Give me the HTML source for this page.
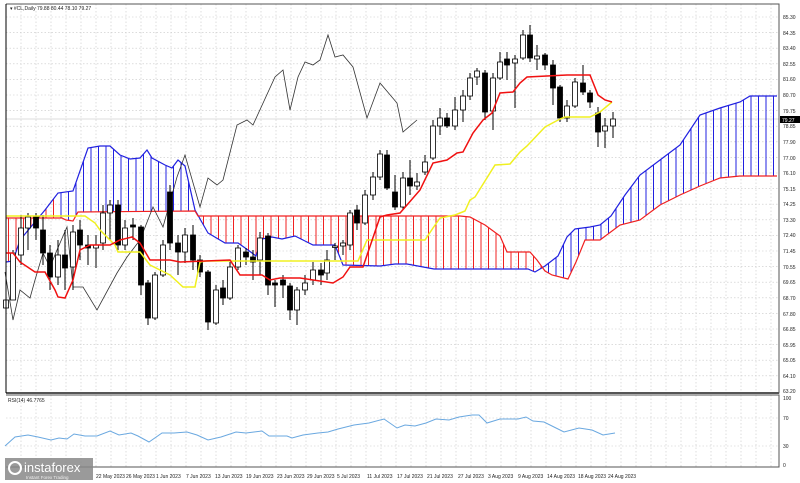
<!DOCTYPE html>
<html><head><meta charset="utf-8"><style>
body{margin:0;background:#fff}
svg{display:block;font-family:"Liberation Sans",sans-serif}
</style></head><body>
<svg width="800" height="483" viewBox="0 0 800 483" xmlns="http://www.w3.org/2000/svg">
<defs>
<pattern id="pb" patternUnits="userSpaceOnUse" width="7.5" height="10"><line x1="1" y1="0" x2="1" y2="10" stroke="#2020e0" stroke-width="1"/></pattern>
<pattern id="pr" patternUnits="userSpaceOnUse" width="7.5" height="10"><line x1="1" y1="0" x2="1" y2="10" stroke="#f02020" stroke-width="1"/></pattern>
<clipPath id="cr"><rect x="6" y="0" width="52" height="400"/><rect x="195" y="0" width="348" height="400"/></clipPath>
<clipPath id="cb"><rect x="58" y="0" width="137" height="400"/><rect x="543" y="0" width="240" height="400"/></clipPath>
</defs>
<rect width="800" height="483" fill="#fff"/>
<!-- grid -->
<g stroke="#c8c8c8" stroke-width="0.6" stroke-dasharray="1.5,2">
<path d="M6 17H779M6 32.6H779M6 48.2H779M6 63.8H779M6 79.4H779M6 95H779M6 110.6H779M6 126.2H779M6 141.8H779M6 157.4H779M6 173H779M6 188.6H779M6 204.2H779M6 219.8H779M6 235.4H779M6 251H779M6 266.6H779M6 282.2H779M6 297.8H779M6 313.4H779M6 329H779M6 344.6H779M6 360.2H779M6 375.8H779"/>
<path d="M21 4V393M36 4V393M51 4V393M66 4V393M81 4V393M96 4V393M111 4V393M126 4V393M141 4V393M156 4V393M171 4V393M186 4V393M201 4V393M216 4V393M231 4V393M246 4V393M261 4V393M276 4V393M291 4V393M306 4V393M321 4V393M336 4V393M351 4V393M366 4V393M381 4V393M396 4V393M411 4V393M426 4V393M441 4V393M456 4V393M471 4V393M486 4V393M501 4V393M516 4V393M531 4V393M546 4V393M561 4V393M576 4V393M591 4V393M606 4V393M621 4V393M636 4V393M651 4V393M666 4V393M681 4V393M696 4V393M711 4V393M726 4V393M741 4V393M756 4V393M771 4V393"/>
<path d="M21 395V467M36 395V467M51 395V467M66 395V467M81 395V467M96 395V467M111 395V467M126 395V467M141 395V467M156 395V467M171 395V467M186 395V467M201 395V467M216 395V467M231 395V467M246 395V467M261 395V467M276 395V467M291 395V467M306 395V467M321 395V467M336 395V467M351 395V467M366 395V467M381 395V467M396 395V467M411 395V467M426 395V467M441 395V467M456 395V467M471 395V467M486 395V467M501 395V467M516 395V467M531 395V467M546 395V467M561 395V467M576 395V467M591 395V467M606 395V467M621 395V467M636 395V467M651 395V467M666 395V467M681 395V467M696 395V467M711 395V467M726 395V467M741 395V467M756 395V467M771 395V467"/>
<path d="M6 418H779M6 446H779"/>
</g>
<line x1="6" y1="119" x2="779" y2="119" stroke="#bbb" stroke-width="0.6"/>
<!-- cloud -->
<polygon clip-path="url(#cr)" fill="url(#pr)" points="6,262 13,261 20,240 35,222 45,210 58,193 73,191 88,148 100,146 110,146 120,155 130,159 140,158 147,150 152,158 165,165 172,168 178,160 185,166 195,210 208,233 225,243 238,243 248,250 256,256 262,239 272,237 282,239 295,236 305,241 313,245 335,245 343,265 380,266 395,264 407,264 434,269 528,269 535,272 545,266 558,256 567,237 575,229 590,227 600,225 611,216 625,195 640,175 660,160 680,145 690,130 700,115 720,108 740,102 750,96 777,96 777,176 740,176 720,178 700,186 680,195 660,205 640,220 620,225 600,240 585,240 576,262 568,279 552,275 545,271 537,260 530,252 507,252 500,236 485,225 470,217 460,216 198,216 195,211 78,212 73,221 66,220 62,218 6,218"/>
<polygon clip-path="url(#cb)" fill="url(#pb)" points="6,262 13,261 20,240 35,222 45,210 58,193 73,191 88,148 100,146 110,146 120,155 130,159 140,158 147,150 152,158 165,165 172,168 178,160 185,166 195,210 208,233 225,243 238,243 248,250 256,256 262,239 272,237 282,239 295,236 305,241 313,245 335,245 343,265 380,266 395,264 407,264 434,269 528,269 535,272 545,266 558,256 567,237 575,229 590,227 600,225 611,216 625,195 640,175 660,160 680,145 690,130 700,115 720,108 740,102 750,96 777,96 777,176 740,176 720,178 700,186 680,195 660,205 640,220 620,225 600,240 585,240 576,262 568,279 552,275 545,271 537,260 530,252 507,252 500,236 485,225 470,217 460,216 198,216 195,211 78,212 73,221 66,220 62,218 6,218"/>
<polyline fill="none" stroke="#2020e0" stroke-width="1.2" points="6,262 13,261 20,240 35,222 45,210 58,193 73,191 88,148 100,146 110,146 120,155 130,159 140,158 147,150 152,158 165,165 172,168 178,160 185,166 195,210 208,233 225,243 238,243 248,250 256,256 262,239 272,237 282,239 295,236 305,241 313,245 335,245 343,265 380,266 395,264 407,264 434,269 528,269 535,272 545,266 558,256 567,237 575,229 590,227 600,225 611,216 625,195 640,175 660,160 680,145 690,130 700,115 720,108 740,102 750,96 777,96"/>
<polyline fill="none" stroke="#f02020" stroke-width="1.2" points="6,218 62,218 66,220 73,221 78,212 195,211 198,216 460,216 470,217 485,225 500,236 507,252 530,252 537,260 545,271 552,275 568,279 576,262 585,240 600,240 620,225 640,220 660,205 680,195 700,186 720,178 740,176 777,176"/>
<!-- chikou -->
<polyline fill="none" stroke="#333" stroke-width="0.8" points="5,272 13,320 20,290 30,298 35,280 43,253 50,267 57,250 67,227 73,287 83,287 97,310 117,273 127,257 140,240 153,207 163,227 177,177 185,155 200,207 208,178 217,185 223,180 237,125 247,120 253,125 275,77 283,70 290,110 298,77 305,62 313,65 320,60 328,35 335,57 343,55 353,67 367,118 380,83 397,103 403,132 417,120"/>
<!-- candles -->
<g stroke="#000" stroke-width="1">
<path d="M6 280V325M13 250V300M21 215V265M28 213V250M36 213V240M43 215V265M50 245V290M58 240V285M65 230V290M73 225V290M80 220V260M88 235V265M96 235V268M103 205V250M110 200V240M118 200V250M125 220V250M133 218V240M141 225V295M148 280V325M155 272V320M163 240V277M170 185V250M178 235V275M185 228V263M193 225V270M200 255V277M208 270V330M216 285V325M223 280V305M230 262V300M238 245V270M246 248V265M253 250V280M260 232V275M268 233V295M275 280V307M283 275V298M290 283V320M297 287V325M305 275V295M313 262V285M321 263V285M327 250V280M335 243V260M343 240V255M350 210V250M357 205V230M365 190V225M373 172V200M380 150V180M387 150V190M395 175V210M403 172V210M410 160V195M417 173V190M425 155V175M433 120V160M440 108V135M447 113V128M455 97V130M463 90V122M470 73V100M477 68V85M485 70V120M493 73V130M500 52V80M507 52V80M515 55V108M523 30V60M530 25V62M537 45V70M545 53V70M553 60V105M560 85V122M567 100V122M575 78V108M583 65V95M590 90V108M598 107V147M605 118V148M613 112V138"/>
</g>
<g stroke="#000" stroke-width="0.8">
<rect x="3.5" y="300" width="5" height="8" fill="#fff"/>
<rect x="10.5" y="253" width="5" height="47" fill="#fff"/>
<rect x="18.5" y="228" width="5" height="27" fill="#fff"/>
<rect x="25.5" y="217" width="5" height="11" fill="#fff"/>
<rect x="33.5" y="217" width="5" height="11" fill="#000"/>
<rect x="40.5" y="230" width="5" height="23" fill="#000"/>
<rect x="47.5" y="253" width="5" height="24" fill="#000"/>
<rect x="55.5" y="255" width="5" height="22" fill="#fff"/>
<rect x="62.5" y="255" width="5" height="13" fill="#000"/>
<rect x="70.5" y="232" width="5" height="35" fill="#fff"/>
<rect x="77.5" y="230" width="5" height="15" fill="#000"/>
<rect x="85.5" y="245" width="5" height="3" fill="#000"/>
<rect x="93.5" y="245" width="5" height="3" fill="#fff"/>
<rect x="100.5" y="213" width="5" height="30" fill="#fff"/>
<rect x="107.5" y="205" width="5" height="8" fill="#fff"/>
<rect x="115.5" y="205" width="5" height="40" fill="#000"/>
<rect x="122.5" y="228" width="5" height="17" fill="#fff"/>
<rect x="130.5" y="225" width="5" height="2" fill="#000"/>
<rect x="138.5" y="227" width="5" height="58" fill="#000"/>
<rect x="145.5" y="283" width="5" height="35" fill="#000"/>
<rect x="152.5" y="275" width="5" height="43" fill="#fff"/>
<rect x="160.5" y="245" width="5" height="30" fill="#fff"/>
<rect x="167.5" y="192" width="5" height="51" fill="#000"/>
<rect x="175.5" y="243" width="5" height="9" fill="#000"/>
<rect x="182.5" y="235" width="5" height="17" fill="#fff"/>
<rect x="190.5" y="235" width="5" height="25" fill="#000"/>
<rect x="197.5" y="260" width="5" height="12" fill="#000"/>
<rect x="205.5" y="272" width="5" height="50" fill="#000"/>
<rect x="213.5" y="290" width="5" height="33" fill="#fff"/>
<rect x="220.5" y="288" width="5" height="10" fill="#000"/>
<rect x="227.5" y="267" width="5" height="31" fill="#fff"/>
<rect x="235.5" y="248" width="5" height="19" fill="#fff"/>
<rect x="243.5" y="252" width="5" height="5" fill="#000"/>
<rect x="250.5" y="257" width="5" height="5" fill="#000"/>
<rect x="257.5" y="238" width="5" height="22" fill="#fff"/>
<rect x="265.5" y="236" width="5" height="49" fill="#000"/>
<rect x="272.5" y="283" width="5" height="2" fill="#000"/>
<rect x="280.5" y="280" width="5" height="5" fill="#000"/>
<rect x="287.5" y="286" width="5" height="24" fill="#000"/>
<rect x="294.5" y="290" width="5" height="20" fill="#fff"/>
<rect x="302.5" y="283" width="5" height="7" fill="#fff"/>
<rect x="310.5" y="270" width="5" height="10" fill="#fff"/>
<rect x="318.5" y="270" width="5" height="5" fill="#000"/>
<rect x="324.5" y="260" width="5" height="13" fill="#fff"/>
<rect x="332.5" y="246" width="5" height="1.5" fill="#fff"/>
<rect x="340.5" y="243" width="5" height="3" fill="#fff"/>
<rect x="347.5" y="213" width="5" height="32" fill="#fff"/>
<rect x="354.5" y="210" width="5" height="13" fill="#000"/>
<rect x="362.5" y="195" width="5" height="28" fill="#fff"/>
<rect x="370.5" y="177" width="5" height="18" fill="#fff"/>
<rect x="377.5" y="154" width="5" height="23" fill="#fff"/>
<rect x="384.5" y="155" width="5" height="33" fill="#000"/>
<rect x="392.5" y="192" width="5" height="15" fill="#000"/>
<rect x="400.5" y="178" width="5" height="29" fill="#fff"/>
<rect x="407.5" y="178" width="5" height="8" fill="#000"/>
<rect x="414.5" y="182" width="5" height="4" fill="#fff"/>
<rect x="422.5" y="162" width="5" height="10" fill="#fff"/>
<rect x="430.5" y="126" width="5" height="32" fill="#fff"/>
<rect x="437.5" y="118" width="5" height="8" fill="#fff"/>
<rect x="444.5" y="118" width="5" height="8" fill="#000"/>
<rect x="452.5" y="110" width="5" height="16" fill="#fff"/>
<rect x="460.5" y="96" width="5" height="14" fill="#fff"/>
<rect x="467.5" y="78" width="5" height="18" fill="#fff"/>
<rect x="474.5" y="71" width="5" height="6" fill="#fff"/>
<rect x="482.5" y="73" width="5" height="39" fill="#000"/>
<rect x="490.5" y="78" width="5" height="33" fill="#fff"/>
<rect x="497.5" y="62" width="5" height="16" fill="#fff"/>
<rect x="504.5" y="59" width="5" height="6" fill="#000"/>
<rect x="512.5" y="59" width="5" height="4" fill="#fff"/>
<rect x="520.5" y="35" width="5" height="23" fill="#fff"/>
<rect x="527.5" y="35" width="5" height="23" fill="#000"/>
<rect x="534.5" y="56" width="5" height="3" fill="#fff"/>
<rect x="542.5" y="55" width="5" height="10" fill="#000"/>
<rect x="550.5" y="65" width="5" height="23" fill="#000"/>
<rect x="557.5" y="87" width="5" height="31" fill="#000"/>
<rect x="564.5" y="106" width="5" height="12" fill="#fff"/>
<rect x="572.5" y="82" width="5" height="24" fill="#fff"/>
<rect x="580.5" y="83" width="5" height="9" fill="#000"/>
<rect x="587.5" y="93" width="5" height="9" fill="#000"/>
<rect x="595.5" y="113" width="5" height="19" fill="#000"/>
<rect x="602.5" y="126" width="5" height="5" fill="#fff"/>
<rect x="610.5" y="119" width="5" height="7" fill="#fff"/>
</g>
<!-- tenkan/kijun -->
<polyline fill="none" stroke="#f0f020" stroke-width="1.5" points="6,216 85,216 95,223 100,230 115,245 118,252 140,252 150,265 170,275 183,287 195,287 200,262 206,261 358,261 367,240 425,240 433,228 440,218 455,215 465,211 470,200 475,197 495,165 510,164 520,152 527,146 545,127 560,119 565,117 590,117 600,112 612,102"/>
<polyline fill="none" stroke="#f01010" stroke-width="1.5" points="6,253 13,253 20,262 35,272 45,272 55,290 58,297 65,298 73,280 80,250 90,245 110,245 120,240 132,237 140,243 150,260 170,260 180,262 230,260 240,275 262,275 270,280 280,278 300,278 333,283 343,277 350,267 363,267 380,217 387,215 400,213 420,190 433,163 447,160 457,153 463,152 473,133 483,120 492,113 500,93 513,92 520,83 527,77 567,75 590,75 598,95 605,100 612,102"/>
<!-- frames -->
<g fill="none" stroke="#555" stroke-width="1">
<path d="M6 4H779V393H6M6 395H779V467H6"/>
</g>
<line x1="6" y1="393" x2="779" y2="393" stroke="#555" stroke-width="2"/>
<line x1="6" y1="4" x2="6" y2="393" stroke="#000" stroke-width="1"/>
<!-- RSI -->
<polyline fill="none" stroke="#6aa8e0" stroke-width="1" points="5,446 15,437 28,435 38,437 51,440 59,438 67,439 74,434 85,436 97,436 110,431 119,435 131,433 138,436 149,442 162,433 174,433 187,432 197,435 208,440 221,437 236,432 246,433 262,431 269,436 287,436 292,438 303,435 318,433 328,432 338,429 354,425 369,423 384,419 397,428 405,425 415,426 426,423 436,419 449,420 459,417 472,415 479,415 487,423 500,419 518,419 526,417 533,421 544,422 554,427 564,432 579,428 592,430 603,435 615,433"/>
<g font-size="5" fill="#222">
<text x="10" y="10">▾ #CL,Daily  79.88 80.44 78.10 79.27</text>
<text x="8" y="402">RSI(14) 46.7765</text>
<text x="783" y="19">85.30</text><text x="783" y="35">84.35</text><text x="783" y="50">83.40</text><text x="783" y="66">82.55</text><text x="783" y="81">81.60</text><text x="783" y="97">80.70</text><text x="783" y="113">79.75</text><text x="783" y="128">78.85</text><text x="783" y="144">77.90</text><text x="783" y="160">77.00</text><text x="783" y="175">76.10</text><text x="783" y="191">75.15</text><text x="783" y="206">74.25</text><text x="783" y="222">73.30</text><text x="783" y="237">72.40</text><text x="783" y="253">71.45</text><text x="783" y="269">70.55</text><text x="783" y="284">69.65</text><text x="783" y="300">68.70</text><text x="783" y="316">67.80</text><text x="783" y="331">66.85</text><text x="783" y="347">65.95</text><text x="783" y="362">65.05</text><text x="783" y="378">64.10</text><text x="783" y="393">63.20</text>
<text x="783" y="400">100</text><text x="783" y="420">70</text><text x="783" y="448">30</text><text x="783" y="467">0</text>
<text x="96" y="478">22 May 2023</text><text x="126" y="478">26 May 2023</text><text x="156" y="478">1 Jun 2023</text><text x="186" y="478">7 Jun 2023</text><text x="215" y="478">13 Jun 2023</text><text x="246" y="478">19 Jun 2023</text><text x="277" y="478">23 Jun 2023</text><text x="307" y="478">29 Jun 2023</text><text x="337" y="478">5 Jul 2023</text><text x="367" y="478">11 Jul 2023</text><text x="397" y="478">17 Jul 2023</text><text x="427" y="478">21 Jul 2023</text><text x="458" y="478">27 Jul 2023</text><text x="488" y="478">3 Aug 2023</text><text x="518" y="478">9 Aug 2023</text><text x="547" y="478">14 Aug 2023</text><text x="578" y="478">18 Aug 2023</text><text x="608" y="478">24 Aug 2023</text>
</g>
<rect x="780" y="116" width="20" height="7" fill="#000"/>
<text x="782" y="122" font-size="5" fill="#fff">79.27</text>
<!-- logo -->
<rect x="5" y="458" width="88" height="22" fill="#888" opacity="0.85"/>
<circle cx="15" cy="468" r="6" fill="none" stroke="#fff" stroke-width="2"/>
<text x="24" y="472" font-size="13" fill="#fff">instaforex</text>
<text x="26" y="479" font-size="4.5" fill="#eee">Instant Forex Trading</text>
</svg>
</body></html>
